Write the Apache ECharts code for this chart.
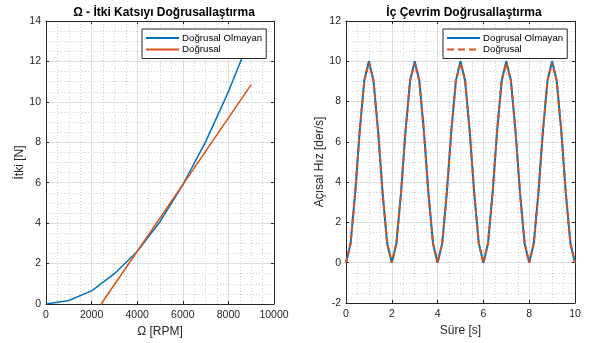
<!DOCTYPE html>
<html>
<head>
<meta charset="utf-8">
<script src="https://cdn.jsdelivr.net/npm/echarts@6/dist/echarts.min.js"></script>
<style>html,body{margin:0;padding:0;background:#fff}#c{width:589px;height:343px}</style>
</head>
<body>
<div id="c"></div>
<script>
// Left chart: thrust vs RPM
const rpm = [0, 1000, 2000, 3000, 4000, 5000, 6000, 7000, 8000, 9000];
const thrustNonlinear = [0, 0.17, 0.65, 1.5, 2.6, 4.07, 5.9, 8.02, 10.5, 13.3];
const rpmLinear = [2420, 9000];
const thrustLinear = [0, 10.85];

// Right chart: angular velocity vs time
const time = [0,0.2,0.4,0.6,0.8,1,1.2,1.4,1.6,1.8,2,2.2,2.4,2.6,2.8,3,3.2,3.4,3.6,3.8,4,4.2,4.4,4.6,4.8,5,5.2,5.4,5.6,5.8,6,6.2,6.4,6.6,6.8,7,7.2,7.4,7.6,7.8,8,8.2,8.4,8.6,8.8,9,9.2,9.4,9.6,9.8,10];
const omegaNonlinear = [0,0.95,3.45,6.55,9.05,10,9.05,6.55,3.45,0.95,0,0.95,3.45,6.55,9.05,10,9.05,6.55,3.45,0.95,0,0.95,3.45,6.55,9.05,10,9.05,6.55,3.45,0.95,0,0.95,3.45,6.55,9.05,10,9.05,6.55,3.45,0.95,0,0.95,3.45,6.55,9.05,10,9.05,6.55,3.45,0.95,0];
const omegaLinear = [0,0.95,3.45,6.55,9.05,9.9,9.05,6.55,3.45,0.95,0,0.95,3.45,6.55,9.05,9.9,9.05,6.55,3.45,0.95,0,0.95,3.45,6.55,9.05,9.9,9.05,6.55,3.45,0.95,0,0.95,3.45,6.55,9.05,9.9,9.05,6.55,3.45,0.95,0,0.95,3.45,6.55,9.05,9.9,9.05,6.55,3.45,0.95,0];

const leftTicksX = [0, 2000, 4000, 6000, 8000, 10000];
const leftTicksY = [0, 2, 4, 6, 8, 10, 12, 14];
const rightTicksX = [0, 2, 4, 6, 8, 10];
const rightTicksY = [-2, 0, 2, 4, 6, 8, 10, 12];

const names = {
  leftTitle: 'Ω - İtki Katsıyı Doğrusallaştırma',
  rightTitle: 'İç Çevrim Doğrusallaştırma',
  leftX: 'Ω [RPM]', leftY: 'İtki [N]',
  rightX: 'Süre [s]', rightY: 'Açısal Hız [der/s]',
  leftA: 'Doğrusal Olmayan', leftB: 'Doğrusal',
  rightA: 'Dogrusal Olmayan', rightB: 'Doğrusal'
};

const FONT = 'Liberation Sans, Arial, Helvetica, sans-serif';
const AX = '#262626';
const BLUE = '#0072BD';
const ORANGE = '#D95319';

function mainAxis(type, gridIndex, ticks, name, nameGap) {
  return {
    type: 'value', gridIndex: gridIndex,
    min: ticks[0], max: ticks[ticks.length - 1], interval: ticks[1] - ticks[0],
    name: name, nameLocation: 'middle', nameGap: nameGap,
    nameTextStyle: { color: AX, fontFamily: FONT, fontSize: 12 },
    axisLine: { show: true, onZero: false, lineStyle: { color: AX, width: 1 } },
    axisTick: { show: true, inside: true, length: 3, lineStyle: { color: AX } },
    axisLabel: { color: AX, fontFamily: FONT, fontSize: 10.5, margin: type === 'x' ? 6 : 5,
      formatter: function (v) { return String(v); } },
    splitLine: { show: true, lineStyle: { color: '#dedede', width: 1 } },
    minorTick: { show: false, splitNumber: 4 },
    minorSplitLine: { show: true, lineStyle: { color: '#cfcfcf', width: 1, type: [1, 2] } }
  };
}
function mirrorAxis(gridIndex, ticks, pos) {
  return {
    type: 'value', gridIndex: gridIndex, position: pos,
    min: ticks[0], max: ticks[ticks.length - 1], interval: ticks[1] - ticks[0],
    axisLine: { show: true, onZero: false, lineStyle: { color: AX, width: 1 } },
    axisTick: { show: true, inside: true, length: 3, lineStyle: { color: AX } },
    axisLabel: { show: false }, splitLine: { show: false }
  };
}
function legendFor(data, left) {
  return {
    data: data, orient: 'vertical', left: left, top: 29,
    itemWidth: 33, itemHeight: 11, itemGap: 1.5,
    padding: [4, 4, 4, 3], backgroundColor: '#fff', borderColor: AX, borderWidth: 1, borderRadius: 0,
    itemStyle: { opacity: 0 },
    textStyle: { fontFamily: FONT, fontSize: 9.7, color: '#000', padding: [0, 0, 0, -2] }
  };
}

const option = {
  animation: false,
  backgroundColor: '#fff',
  title: [
    { text: names.leftTitle, left: 159, top: 2, textAlign: 'center',
      textStyle: { fontFamily: FONT, fontSize: 12, fontWeight: 'bold', color: '#000' } },
    { text: names.rightTitle, left: 459, top: 2, textAlign: 'center',
      textStyle: { fontFamily: FONT, fontSize: 12, fontWeight: 'bold', color: '#000' } }
  ],
  grid: [
    { left: 46, right: 315, top: 21, bottom: 39, show: false },
    { left: 346, right: 14, top: 21, bottom: 40, show: false }
  ],
  xAxis: [
    mainAxis('x', 0, leftTicksX, names.leftX, 22),
    mirrorAxis(0, leftTicksX, 'top'),
    mainAxis('x', 1, rightTicksX, names.rightX, 22),
    mirrorAxis(1, rightTicksX, 'top')
  ],
  yAxis: [
    mainAxis('y', 0, leftTicksY, names.leftY, 20),
    mirrorAxis(0, leftTicksY, 'right'),
    mainAxis('y', 1, rightTicksY, names.rightY, 16),
    mirrorAxis(1, rightTicksY, 'right')
  ],
  legend: [
    legendFor([names.leftA, names.leftB], 142),
    legendFor([names.rightA, { name: names.rightB, lineStyle: { type: [7, 4] } }], 443)
  ],
  series: [
    { name: names.leftA, type: 'line', xAxisIndex: 0, yAxisIndex: 0, symbol: 'none',
      color: BLUE, lineStyle: { color: BLUE, width: 1.5 },
      data: rpm.map((x, i) => [x, thrustNonlinear[i]]) },
    { name: names.leftB, type: 'line', xAxisIndex: 0, yAxisIndex: 0, symbol: 'none',
      color: ORANGE, lineStyle: { color: ORANGE, width: 1.5 },
      data: rpmLinear.map((x, i) => [x, thrustLinear[i]]) },
    { name: names.rightA, type: 'line', xAxisIndex: 2, yAxisIndex: 2, symbol: 'none',
      color: BLUE, lineStyle: { color: BLUE, width: 2 },
      data: time.map((x, i) => [x, omegaNonlinear[i]]) },
    { name: names.rightB, type: 'line', xAxisIndex: 2, yAxisIndex: 2, symbol: 'none',
      color: ORANGE, lineStyle: { color: ORANGE, width: 2, type: [5, 3] },
      data: time.map((x, i) => [x, omegaLinear[i]]) }
  ]
};
const chart = echarts.init(document.getElementById('c'), null, { renderer: 'canvas' });
chart.setOption(option);
</script>
</body>
</html>
